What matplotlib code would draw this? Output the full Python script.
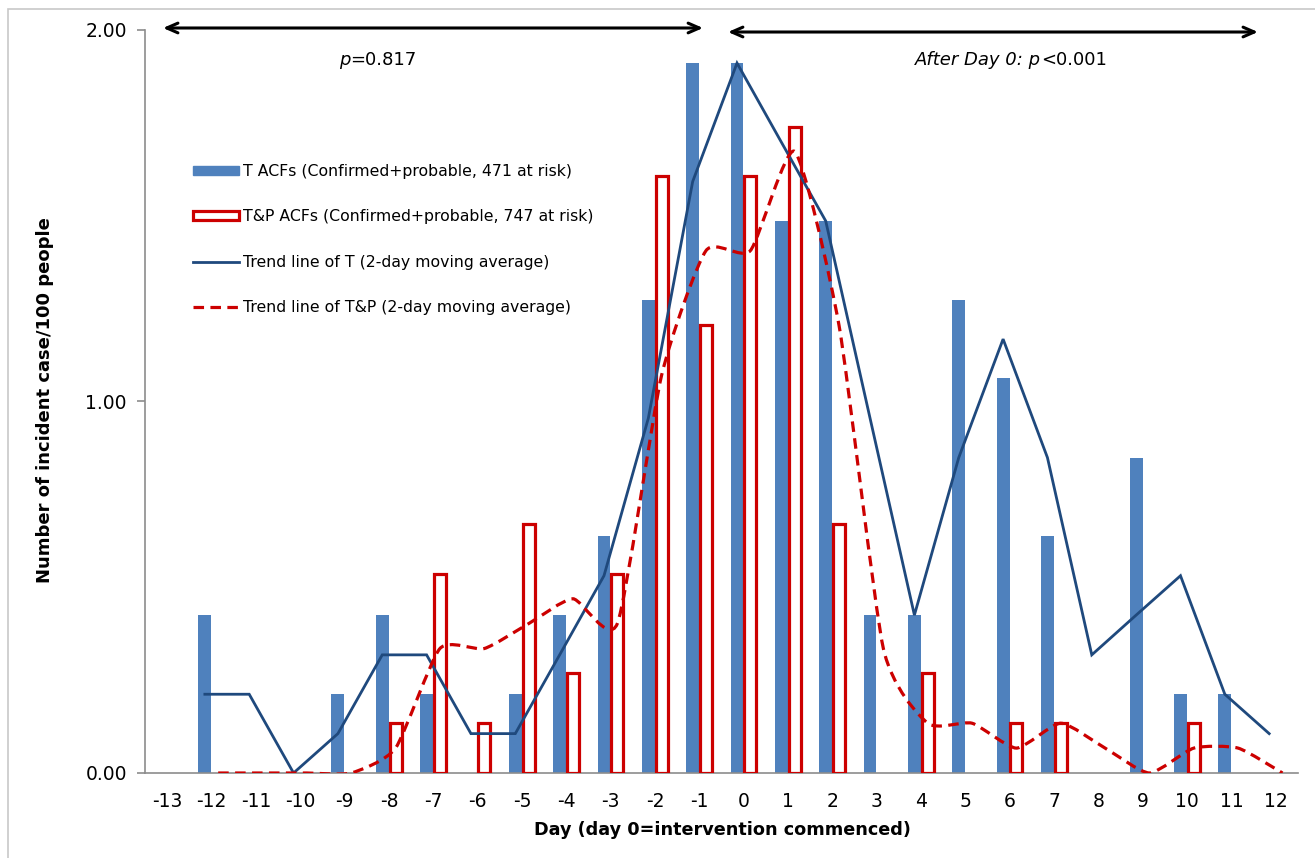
import numpy as np
import matplotlib
matplotlib.use("Agg")
import matplotlib.pyplot as plt
from matplotlib.path import Path
from matplotlib.patches import PathPatch, Rectangle, Patch
from matplotlib.lines import Line2D

plt.rcParams['font.family'] = ['DejaVu Sans']

# ---------------- data ----------------
days = list(range(-13, 13))
tick_labels = [str(d) for d in days]

t_acf = [0, 0.425, 0, 0, 0.212, 0.425, 0.212, 0, 0.212, 0.425, 0.637, 1.274, 1.911,
         1.911, 1.486, 1.486, 0.425, 0.425, 1.274, 1.062, 0.637, 0, 0.849, 0.212, 0.212, 0]
tp_acf = [0, 0, 0, 0, 0, 0.134, 0.535, 0.134, 0.669, 0.268, 0.535, 1.606, 1.205,
          1.606, 1.740, 0.669, 0, 0.268, 0, 0.134, 0.134, 0, 0, 0.134, 0, 0]

trend_days = list(range(-12, 13))
trend_t = [0.212, 0.212, 0, 0.106, 0.318, 0.318, 0.106, 0.106, 0.318, 0.531, 0.955, 1.592,
           1.911, 1.698, 1.486, 0.955, 0.425, 0.849, 1.168, 0.849, 0.318, 0.425, 0.531, 0.212, 0.106]
trend_tp = [0, 0, 0, 0, 0.067, 0.335, 0.335, 0.402, 0.469, 0.402, 1.071, 1.406,
            1.406, 1.673, 1.205, 0.335, 0.134, 0.134, 0.067, 0.134, 0.067, 0, 0.067, 0.067, 0]

y_ticks = [0, 1, 2]
y_tick_labels = ["0.00", "1.00", "2.00"]

labels = ["T ACFs (Confirmed+probable, 471 at risk)",
          "T&P ACFs (Confirmed+probable, 747 at risk)",
          "Trend line of T (2-day moving average)",
          "Trend line of T&P (2-day moving average)"]

# ---------------- style ----------------
BLUE = "#4F81BD"
RED = "#CC0000"
DARKBLUE = "#1F497D"
GRAY = "#8C8C8C"
OFF = 0.15
W = 0.29
DASH = (0, (3.3, 2.0))

fig = plt.figure(figsize=(13.15, 8.58), dpi=100)
fig.patches.append(Rectangle((8 / 1315, -0.05), 1.2, 1 - 9 / 858 + 0.05,
                             transform=fig.transFigure, fill=False,
                             edgecolor="#C8C8C8", lw=1.2, zorder=0))
ax = fig.add_axes([145 / 1315, 1 - 773 / 858, 1153 / 1315, 743 / 858])

x = np.array(days, dtype=float)
ax.bar(x - OFF, t_acf, width=W, color=BLUE, zorder=2)
red_bars = ax.bar(x + OFF, tp_acf, width=W - 0.02, facecolor="white",
                  edgecolor=RED, linewidth=2.3, zorder=3)
for b, v in zip(red_bars, tp_acf):
    if v == 0:
        b.set_visible(False)

xt = np.array(trend_days, dtype=float)
ax.plot(xt - OFF, trend_t, color=DARKBLUE, lw=2.0, zorder=5, solid_joinstyle="miter")


def smooth_path(xs, ys, k=0.1):
    pts = list(zip(xs, ys))
    n = len(pts)
    verts = [pts[0]]
    codes = [Path.MOVETO]
    for i in range(n - 1):
        p0 = pts[i - 1] if i > 0 else pts[i]
        p1 = pts[i]
        p2 = pts[i + 1]
        p3 = pts[i + 2] if i + 2 < n else pts[i + 1]
        c1 = (p1[0] + (p2[0] - p0[0]) * k, p1[1] + (p2[1] - p0[1]) * k)
        c2 = (p2[0] - (p3[0] - p1[0]) * k, p2[1] - (p3[1] - p1[1]) * k)
        verts += [c1, c2, p2]
        codes += [Path.CURVE4] * 3
    return Path(verts, codes)


ax.add_patch(PathPatch(smooth_path(xt + OFF, trend_tp), fill=False, edgecolor=RED,
                       lw=2.3, linestyle=DASH, zorder=6))

ax.set_xlim(-13.5, 12.5)
ax.set_ylim(0, 2)
ax.set_xticks(days)
ax.set_xticklabels(tick_labels, fontsize=13.5)
ax.set_yticks(y_ticks)
ax.set_yticklabels(y_tick_labels, fontsize=13.5)
ax.tick_params(axis="x", length=0, pad=13.5)
ax.tick_params(axis="y", length=6, width=1.2, color=GRAY, pad=7)
for s in ["top", "right"]:
    ax.spines[s].set_visible(False)
for s in ["left", "bottom"]:
    ax.spines[s].set_color(GRAY)
    ax.spines[s].set_linewidth(1.2)

ax.set_xlabel("Day (day 0=intervention commenced)", fontsize=12.7, fontweight="bold")
ax.xaxis.set_label_coords(0.5004, -0.0767)
ax.xaxis.label.set_va("center")
ax.set_ylabel("Number of incident case/100 people", fontsize=13, fontweight="bold")
ax.yaxis.set_label_coords(-0.0867, 0.502)
ax.yaxis.label.set_va("center")

# arrows and p-values
arrow_kw = dict(arrowstyle="<->,head_length=0.8,head_width=0.35", lw=2.2,
                color="black", shrinkA=0, shrinkB=0)
ax.annotate("", xy=(0.0156, 1.0027), xytext=(0.484, 1.0027), xycoords="axes fraction",
            textcoords="axes fraction", arrowprops=arrow_kw, annotation_clip=False)
ax.annotate("", xy=(0.5056, 0.9973), xytext=(0.9653, 0.9973), xycoords="axes fraction",
            textcoords="axes fraction", arrowprops=arrow_kw, annotation_clip=False)
ax.text(0.178, 0.9596, "p", transform=ax.transAxes, ha="right", va="center",
        fontsize=13, style="italic")
ax.text(0.178, 0.9596, "=0.817", transform=ax.transAxes, ha="left", va="center",
        fontsize=13)
ax.text(0.777, 0.9596, "After Day 0: p", transform=ax.transAxes, ha="right", va="center",
        fontsize=13, style="italic")
ax.text(0.777, 0.9596, "<0.001", transform=ax.transAxes, ha="left", va="center",
        fontsize=13)

handles = [Patch(facecolor=BLUE, edgecolor=BLUE),
           Patch(facecolor="white", edgecolor=RED, linewidth=2.3),
           Line2D([], [], color=DARKBLUE, lw=2.0),
           Line2D([], [], color=RED, lw=2.3, linestyle=DASH)]
fig.legend(handles, labels, loc="upper left", bbox_to_anchor=(193 / 1315, 1 - 164 / 858),
           frameon=False, fontsize=11.3, handlelength=2.9, handleheight=0.5,
           handletextpad=0.3, labelspacing=1.93, borderpad=0, borderaxespad=0)

fig.savefig("out.png", dpi=100)
